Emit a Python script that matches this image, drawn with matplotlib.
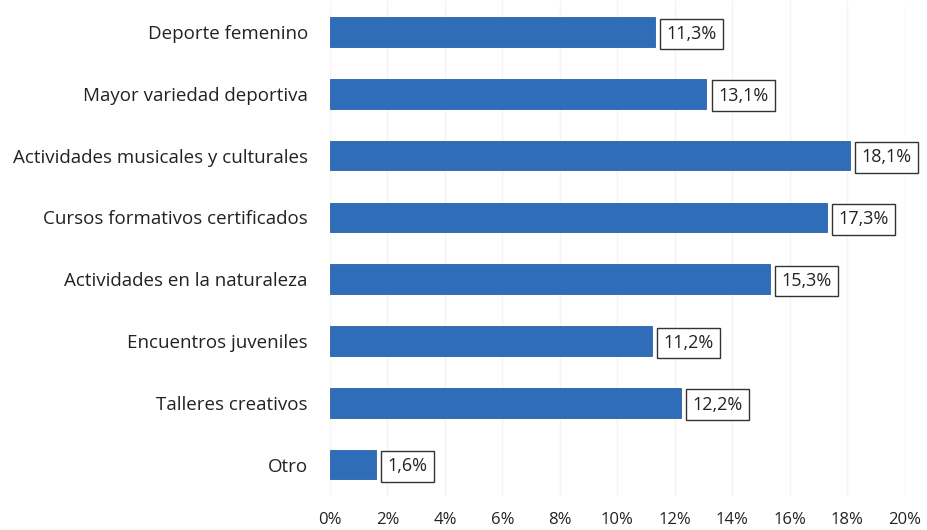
import matplotlib.pyplot as plt
import numpy as np

# datos
categorias = ['Deporte femenino', 'Mayor variedad deportiva', 'Actividades musicales y culturales',
              'Cursos formativos certificados', 'Actividades en la naturaleza', 'Encuentros juveniles',
              'Talleres creativos', 'Otro']
valores = [11.3, 13.1, 18.1, 17.3, 15.3, 11.2, 12.2, 1.6]
etiquetas = ['11,3%', '13,1%', '18,1%', '17,3%', '15,3%', '11,2%', '12,2%', '1,6%']
ticks = [0, 2, 4, 6, 8, 10, 12, 14, 16, 18, 20]

plt.rcParams['font.family'] = ['Open Sans', 'DejaVu Sans']

fig = plt.figure(figsize=(9.27, 5.30), dpi=100)
fig.set_facecolor('white')
ax = fig.add_axes([0.356, 0.065, 0.62, 0.933])

y = np.arange(len(categorias))
ax.barh(y, valores, height=0.48, color='#2F6DB8', edgecolor='#2a62a8', linewidth=0.6, zorder=3)

# etiquetas con recuadro
for yi, v, t in zip(y, valores, etiquetas):
    ax.text(v + 0.4, yi + 0.03, t, va='center', ha='left', fontsize=13, color='#222222',
            bbox=dict(boxstyle='square,pad=0.35', facecolor='white', edgecolor='#333333', linewidth=1),
            zorder=4)

ax.set_xlim(0, 20)
ax.set_ylim(len(categorias) - 0.5, -0.5)
ax.set_yticks(y)
ax.set_yticklabels(categorias, fontsize=13.5, color='#222222')
ax.set_xticks(ticks)
ax.set_xticklabels([str(t) + '%' for t in ticks], fontsize=12, color='#222222')
ax.tick_params(length=0)
ax.tick_params(axis='y', pad=16)
ax.tick_params(axis='x', pad=12)
ax.grid(True, axis='x', color='#f4f4f4', linewidth=1, zorder=0)
for s in ax.spines.values():
    s.set_visible(False)

fig.savefig('out.png', dpi=100, facecolor='white')
